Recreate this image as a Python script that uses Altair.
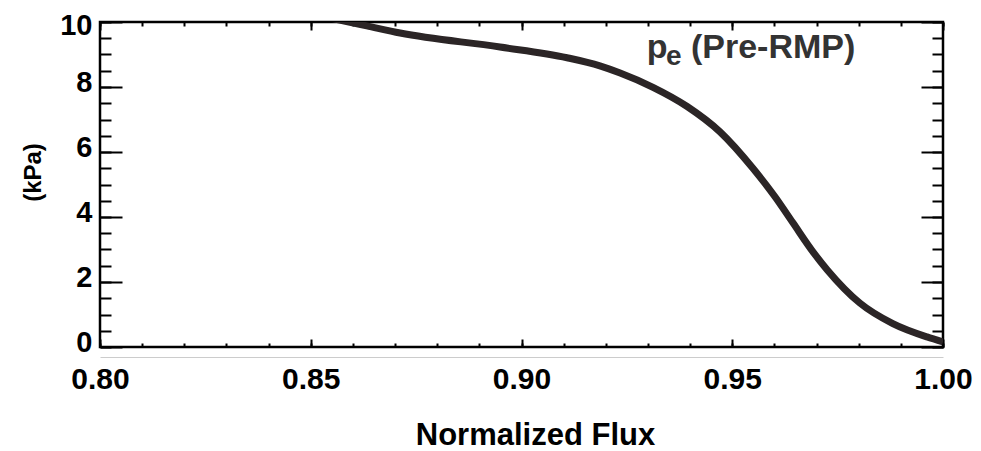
import altair as alt
import pandas as pd

# ---- data ----
flux = [0.850, 0.8633, 0.8712, 0.8949, 0.9108, 0.9186, 0.9234, 0.9312, 0.9393,
        0.9471, 0.9549, 0.9601, 0.9644, 0.9692, 0.9725, 0.9803, 0.9881, 0.9962, 1.000]
pe_kpa = [10.25, 9.88, 9.66, 9.23, 8.90, 8.65, 8.43, 7.99, 7.40,
          6.62, 5.50, 4.63, 3.82, 2.92, 2.38, 1.35, 0.72, 0.31, 0.16]

x_major = [0.80, 0.85, 0.90, 0.95, 1.00]
x_minor = [round(0.80 + 0.01 * i, 2) for i in range(21)]
y_major = [0, 2, 4, 6, 8, 10]
y_minor = [0.5 * i for i in range(21)]

note_text = ["p", "e", "(Pre-RMP)"]
note_x = [0.9297, 0.9343, 0.9402]
note_y = [8.90, 8.68, 8.90]
note_size = [34, 28, 34]

df = pd.DataFrame({"flux": flux, "pe": pe_kpa})
notes = pd.DataFrame({"t": note_text, "x": note_x, "y": note_y, "s": note_size})

FONT = "Liberation Sans"
xs = alt.Scale(domain=[0.80, 1.00], nice=False, zero=False)
ys = alt.Scale(domain=[0, 10], nice=False, zero=False)


def tick_axis(orient, values, size):
    return alt.Axis(orient=orient, values=values, tickSize=size, offset=-size,
                    labels=False, domain=False, grid=False, ticks=True,
                    tickColor="black", tickWidth=2)


base = alt.Chart(df)


def layer(xaxis, yaxis, mark):
    return mark.encode(
        x=alt.X("flux:Q", scale=xs, axis=xaxis, title=None),
        y=alt.Y("pe:Q", scale=ys, axis=yaxis, title=None),
    )


line = layer(tick_axis("bottom", x_minor, 4), tick_axis("left", y_minor, 11),
             base.mark_line(color="#2b2526", strokeWidth=7, clip=True, interpolate="monotone"))
l2 = layer(tick_axis("bottom", x_major, 8), tick_axis("left", y_major, 22),
           base.mark_point(opacity=0))
l3 = layer(tick_axis("top", x_minor, 4), tick_axis("right", y_minor, 11),
           base.mark_point(opacity=0))
l4 = layer(tick_axis("top", x_major, 8), tick_axis("right", y_major, 22),
           base.mark_point(opacity=0))

lab = base.mark_point(opacity=0).encode(
    x=alt.X("flux:Q", scale=xs, title="Normalized Flux",
            axis=alt.Axis(orient="bottom", values=x_major, format=".2f", offset=10,
                          ticks=False, tickSize=0, grid=False, domain=True,
                          domainColor="#cccccc", domainWidth=1,
                          labelFlush=False, labelPadding=7, labelFontSize=30,
                          labelFont=FONT, labelFontWeight="bold", labelColor="black",
                          titleFont=FONT, titleFontWeight="bold", titleFontSize=31,
                          titleColor="black", titleX=435, titleY=78,
                          titleBaseline="middle", titleAlign="center")),
    y=alt.Y("pe:Q", scale=ys, title="(kPa)",
            axis=alt.Axis(orient="left", values=y_major, format="d",
                          ticks=False, tickSize=0, grid=False, domain=False,
                          labelPadding=8, labelFontSize=29,
                          labelOffset={"condition": {"test": "datum.value == 10", "value": 3}, "value": -5},
                          labelFont=FONT, labelFontWeight="bold", labelColor="black",
                          titleFont=FONT, titleFontWeight="bold", titleFontSize=24,
                          titleColor="black", titleX=-67, titleY=150, titleAngle=270,
                          titleBaseline="middle", titleAlign="center")),
)

text = alt.Chart(notes).mark_text(
    font=FONT, fontWeight="bold", color="#333333", align="left", baseline="alphabetic"
).encode(
    x=alt.X("x:Q", scale=xs, axis=None),
    y=alt.Y("y:Q", scale=ys, axis=None),
    text="t:N",
    size=alt.Size("s:Q", scale=None, legend=None),
)

chart = alt.layer(line, l2, l3, l4, lab, text).resolve_scale(
    x="shared", y="shared"
).resolve_axis(
    x="independent", y="independent"
).properties(
    width=843, height=325,
    autosize=alt.AutoSizeParams(type="none"),
    padding={"left": 100, "top": 22, "right": 38, "bottom": 104},
    background="white",
).configure_view(
    stroke="black", strokeWidth=2.5
)

chart.save("out.html", embed_options={"renderer": "svg", "actions": False})
